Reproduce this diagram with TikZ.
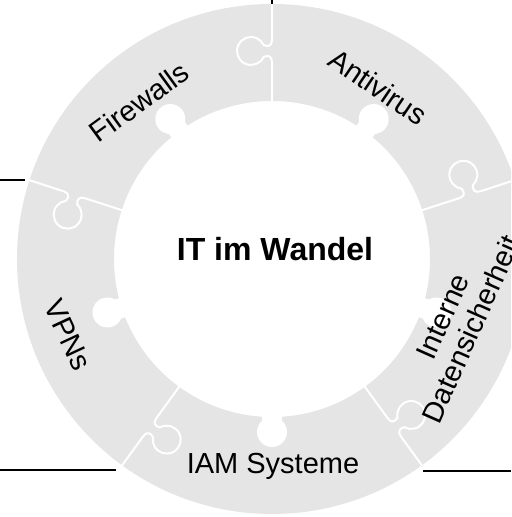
\documentclass[tikz,border=0pt]{standalone}
\usepackage{fontspec}
\setmainfont{Liberation Sans}
\usepackage{tikz}

\begin{document}
\begin{tikzpicture}[x=0.5pt, y=0.5pt,
    ring/.style={fill=black!10, even odd rule},
    label/.style={font=\fontsize{14.5}{15.5}\selectfont, inner sep=0pt},
    leader/.style={draw, line width=1pt},
    seam/.pic={
      \draw[white, line width=1pt] (150,0) -- (197,0)
        .. controls (203,0) and (204,4) .. (202.1,8.3)
        arc[start angle=245, end angle=-65, radius=14]
        .. controls (212,4) and (213,0) .. (219,0) -- (262,0);
    },
    tab/.pic={
      \fill[white] (150,-10) rectangle (175,10);
      \fill[white] (173,0) circle[radius=15];
    }]
            \useasboundingbox (-272,-258) rectangle (239,259);
            \clip (-272,-258) rectangle (239,259);

            % Ring
            \fill[ring] (0,0) circle[radius=255] (0,0) circle[radius=158];

            % Inner tabs
            \pic[rotate=126] (tab-fw) {tab};
            \pic[rotate=54] (tab-av) {tab};
            \pic[rotate=342] (tab-ds) {tab};
            \pic[rotate=270] (tab-iam) {tab};
            \pic[rotate=198] (tab-vpn) {tab};

            % Seams between the pieces
            \pic[rotate=90] (seam-top) {seam};
            \pic[rotate=162] (seam-left) {seam};
            \pic[rotate=234] (seam-bl) {seam};
            \pic[rotate=306] (seam-br) {seam};
            \pic[rotate=18] (seam-right) {seam};

            % Centre
            \node[font=\fontsize{16}{19}\selectfont\bfseries] (core) at (3,10) {IT im Wandel};

            % Pieces
            \node[label, rotate=36] (fw) at (-133,157) {Firewalls};
            \node[label, rotate=-34] (av) at (106,172) {Antivirus};
            \node[label, rotate=66, align=center] (ds) at (185,-64) {Interne\\Datensicherheit};
            \node[label, anchor=base] (iam) at (1,-214) {IAM Systeme};
            \node[label, rotate=-65] (vpn) at (-204,-76) {VPNs};

            % Leader lines
            \coordinate (top-a) at (0,255);
            \coordinate (top-b) at (0,259);
            \coordinate (left-a) at (-247,79);
            \coordinate (left-b) at (-272,79);
            \coordinate (bl-a) at (-156,-211);
            \coordinate (bl-b) at (-272,-211);
            \coordinate (br-a) at (151,-212);
            \coordinate (br-b) at (239,-212);
            \draw[leader] (top-a) -- (top-b);
            \draw[leader] (left-a) -- (left-b);
            \draw[leader] (bl-a) -- (bl-b);
            \draw[leader] (br-a) -- (br-b);
        \end{tikzpicture}
\end{document}
